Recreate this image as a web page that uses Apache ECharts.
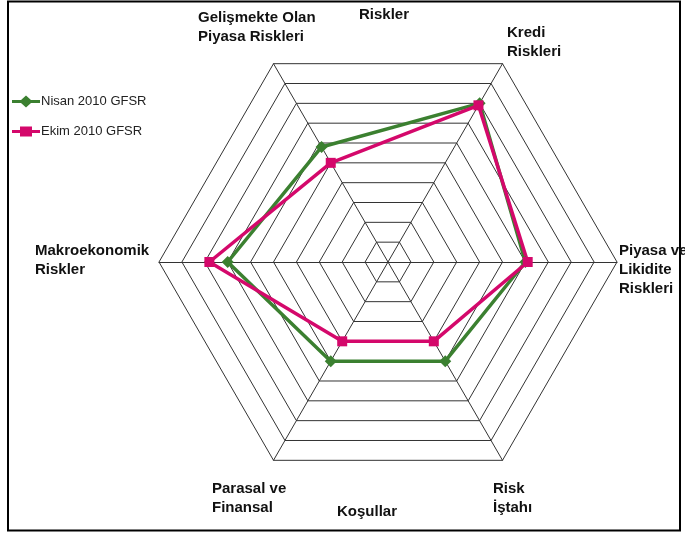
<!DOCTYPE html>
<html>
<head>
<meta charset="utf-8">
<script src="https://cdn.jsdelivr.net/npm/echarts@6/dist/echarts.min.js"></script>
<style>
  html, body { margin: 0; padding: 0; background: #fff; }
  #chart { width: 685px; height: 535px; }
</style>
</head>
<body>
<div id="chart"></div>
<script>
// Risk dimensions, counter-clockwise from the upper-right spoke
const indicators = [
  'Kredi Riskleri',
  'Gelişmekte Olan Piyasa Riskleri',
  'Makroekonomik Riskler',
  'Parasal ve Finansal Koşullar',
  'Risk İştahı',
  'Piyasa ve Likidite Riskleri'
];
const seriesNames = ['Nisan 2010 GFSR', 'Ekim 2010 GFSR'];
const nisanValues = [8.0, 5.8, 7.0, 5.0, 5.0, 6.0];
const ekimValues  = [7.9, 5.0, 7.8, 4.0, 4.0, 6.1];
const scaleMax = 10;

const GREEN = '#3b8030';
const PINK = '#d4086b';
const WEB = '#333';

// legend icons: a thick line with the series marker in the middle
const greenIcon = 'path://M0,4.5 L9,4.5 L14,0 L19,4.5 L28,4.5 L28,7.5 L19,7.5 L14,12 L9,7.5 L0,7.5 Z';
const pinkIcon = 'path://M0,4.5 L8,4.5 L8,1 L20,1 L20,4.5 L28,4.5 L28,7.5 L20,7.5 L20,11 L8,11 L8,7.5 L0,7.5 Z';

const boldText = { fill: '#111', font: 'bold 15px "Liberation Sans", Arial, sans-serif', lineHeight: 19 };
function label(x, y, text) {
  return { type: 'text', left: x, top: y, style: Object.assign({ text: text }, boldText) };
}

const chart = echarts.init(document.getElementById('chart'));
chart.setOption({
  backgroundColor: '#fff',
  animation: false,
  legend: {
    orient: 'vertical',
    left: 7,
    top: 90,
    itemWidth: 28,
    itemHeight: 12,
    itemGap: 17,
    textStyle: { fontFamily: '"Liberation Sans", Arial, sans-serif', fontSize: 13, color: '#222', padding: [0, 0, 0, -4] },
    data: [
      { name: seriesNames[0], icon: greenIcon },
      { name: seriesNames[1], icon: pinkIcon }
    ]
  },
  radar: {
    center: [388, 262],
    radius: 229,
    startAngle: 60,
    shape: 'polygon',
    splitNumber: 10,
    indicator: indicators.map(n => ({ name: n, min: 0, max: scaleMax })),
    axisName: { show: false },
    splitArea: { show: false },
    splitLine: { lineStyle: { color: WEB, width: 1 } },
    axisLine: { lineStyle: { color: WEB, width: 1 } },
    axisTick: { show: false },
    axisLabel: { show: false }
  },
  series: [{
    type: 'radar',
    data: [
      {
        name: seriesNames[0],
        value: nisanValues,
        symbol: 'diamond',
        symbolSize: 12,
        lineStyle: { color: GREEN, width: 3.5 },
        itemStyle: { color: GREEN }
      },
      {
        name: seriesNames[1],
        value: ekimValues,
        symbol: 'rect',
        symbolSize: 10,
        lineStyle: { color: PINK, width: 3.5 },
        itemStyle: { color: PINK }
      }
    ]
  }],
  graphic: [
    {
      type: 'rect',
      shape: { x: 8, y: 1.5, width: 672, height: 529 },
      style: { fill: 'none', stroke: '#000', lineWidth: 2 },
      silent: true
    },
    label(198, 8, 'Gelişmekte Olan\nPiyasa Riskleri'),
    label(359, 5, 'Riskler'),
    label(507, 23, 'Kredi\nRiskleri'),
    label(619, 241, 'Piyasa ve\nLikidite\nRiskleri'),
    label(35, 241, 'Makroekonomik\nRiskler'),
    label(212, 479, 'Parasal ve\nFinansal'),
    label(337, 502, 'Koşullar'),
    label(493, 479, 'Risk\nİştahı')
  ]
});
</script>
</body>
</html>
